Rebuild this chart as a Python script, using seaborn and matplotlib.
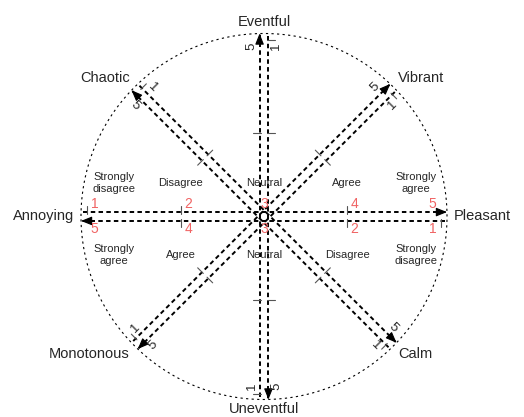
import numpy as np
import pandas as pd
import matplotlib.pyplot as plt
import seaborn as sns

# attributes around the circumplex, counter-clockwise from the right
directions = ['Pleasant', 'Vibrant', 'Eventful', 'Chaotic',
              'Annoying', 'Monotonous', 'Uneventful', 'Calm']
angles = [0, 45, 90, 135, 180, 225, 270, 315]

# 5-point Likert scale and where each point sits along an arrow
likert = [1, 2, 3, 4, 5]
scale_pos = [-1.0, -0.47, 0.0, 0.47, 1.0]

upper_text = ['Strongly\ndisagree', 'Disagree', 'Neutral', 'Agree', 'Strongly\nagree']
lower_text = ['Strongly\nagree', 'Agree', 'Neutral', 'Disagree', 'Strongly\ndisagree']

RED = '#F06464'
OFF = 0.025      # half gap between the two parallel arrows of an axis
R = 1.034        # dotted outer circle
TAIL = 1.02

sns.set_theme(style='white')
plt.rcParams['font.family'] = ['Liberation Sans', 'DejaVu Sans']

fig = plt.figure(figsize=(5.24, 4.17), dpi=100)
ax = fig.add_axes([0, 0, 1, 1])
ax.set_xlim(-264 / 177, 260 / 177)
ax.set_ylim(-200.5 / 177, 216.5 / 177)
ax.axis('off')

line_rows, tick_rows = [], []
geo = {}
for name, ang in zip(directions, angles):
    t = np.deg2rad(ang)
    d = np.array([np.cos(t), np.sin(t)])
    n = np.array([-np.sin(t), np.cos(t)])
    base = n * OFF
    geo[name] = (d, n, base)
    tail = base - d * TAIL
    tip = base + d * R
    line_rows.append({'line': name, 'x': tail[0], 'y': tail[1]})
    line_rows.append({'line': name, 'x': tip[0], 'y': tip[1]})
    for v, s in zip(likert[:-1], scale_pos[:-1]):
        if s == 0:
            continue  # centre is crowded, no tick there
        p = base + d * s
        a, b = p - n * 0.01, p + n * 0.035
        tick_rows.append({'tick': f'{name}{v}', 'x': a[0], 'y': a[1]})
        tick_rows.append({'tick': f'{name}{v}', 'x': b[0], 'y': b[1]})

lines = pd.DataFrame(line_rows)
ticks = pd.DataFrame(tick_rows)

sns.lineplot(data=lines, x='x', y='y', units='line', estimator=None, sort=False,
             color='black', lw=1.4, linestyle=(0, (2.3, 1.7)), legend=False, ax=ax)
sns.lineplot(data=ticks, x='x', y='y', units='tick', estimator=None, sort=False,
             color='#555555', lw=0.8, legend=False, ax=ax)

# outer circle
th = np.linspace(0, 2 * np.pi, 400)
ax.plot(R * np.cos(th), R * np.sin(th), color='black', lw=0.8, ls=(0, (2, 3)))

for name in directions:
    d, n, base = geo[name]
    tip = base + d * R
    ax.annotate('', xy=tip, xytext=tip - d * 0.05,
                arrowprops=dict(arrowstyle='-|>,head_length=0.55,head_width=0.22',
                                color='black', lw=0.8, shrinkA=0, shrinkB=0,
                                mutation_scale=12))

# scale numbers
for name, ang in zip(directions, angles):
    d, n, base = geo[name]
    if ang in (0, 180):
        for v, s in zip(likert, scale_pos):
            p = base + d * s
            y = p[1] + n[1] * 0.045
            if abs(p[0]) < 0.1:
                x, ha = p[0], 'center'
            elif p[0] > 0.9:
                x, ha = p[0] - 0.025, 'right'
            else:
                x, ha = p[0] + 0.02, 'left'
            ax.text(x, y, str(v), color=RED, fontsize=10, ha=ha, va='center')
    else:
        rot = ang if ang <= 90 else ang - 180
        if rot > 90:
            rot -= 180
        for v, s in ((likert[0], scale_pos[0]), (likert[-1], scale_pos[-1])):
            along = s - np.sign(s) * 0.04
            p = base + d * along + n * 0.045
            ax.text(p[0], p[1], str(v), fontsize=9.5, rotation=rot,
                    rotation_mode='anchor', ha='center', va='center')

# response wording
for s, top, bottom in zip(scale_pos, upper_text, lower_text):
    x = float(np.clip(s, -0.85, 0.86))
    ax.text(x, 0.19, top, fontsize=8, ha='center', va='center', linespacing=1.25)
    ax.text(x, -0.215, bottom, fontsize=8, ha='center', va='center', linespacing=1.25)

# attribute names outside the circle
for name, ang in zip(directions, angles):
    t = np.deg2rad(ang)
    c, s = np.cos(t), np.sin(t)
    ha = 'left' if c > 0.1 else ('right' if c < -0.1 else 'center')
    va = 'bottom' if s > 0.1 else ('top' if s < -0.1 else 'center')
    dy = 3.5 * s ** 3 if s > 0 else 2.0 * s ** 3
    ax.annotate(name, xy=(R * c, R * s), xytext=(5 * c, dy),
                textcoords='offset points', ha=ha, va=va, fontsize=10.5)

fig.savefig('out.png', dpi=100)
